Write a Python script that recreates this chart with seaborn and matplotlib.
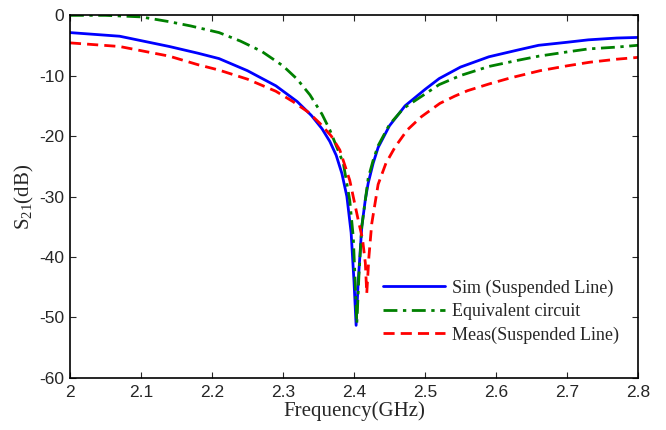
import matplotlib
matplotlib.use('Agg')
import matplotlib.pyplot as plt
import seaborn as sns
import pandas as pd

# Sim (Suspended Line)
sim_f = [2.00, 2.07, 2.14, 2.18, 2.21, 2.25, 2.29, 2.32, 2.34, 2.355, 2.366, 2.375, 2.383,
         2.39, 2.396, 2.400, 2.403, 2.406, 2.411, 2.416, 2.420, 2.427, 2.434, 2.45, 2.472,
         2.50, 2.52, 2.55, 2.59, 2.63, 2.66, 2.70, 2.73, 2.77, 2.80]
sim_db = [-2.9, -3.5, -5.2, -6.3, -7.2, -9.2, -11.7, -14.3, -16.6, -18.8, -20.9, -23.2, -26.2,
          -30.0, -36.0, -44.0, -51.3, -44.0, -35.0, -30.5, -27.8, -24.5, -21.9, -18.3, -15.0,
          -12.3, -10.5, -8.6, -6.9, -5.8, -5.0, -4.5, -4.1, -3.8, -3.7]

# Equivalent circuit
eq_f = [2.00, 2.05, 2.10, 2.14, 2.17, 2.21, 2.24, 2.27, 2.30, 2.32, 2.338, 2.355, 2.366,
        2.385, 2.394, 2.399, 2.402, 2.404, 2.407, 2.411, 2.42, 2.427, 2.434, 2.45, 2.47,
        2.52, 2.55, 2.59, 2.63, 2.66, 2.70, 2.73, 2.77, 2.80]
eq_db = [-0.05, -0.05, -0.3, -1.1, -1.8, -2.9, -4.3, -6.0, -8.4, -10.6, -13.2, -16.4, -19.0,
         -24.5, -30.6, -36.7, -45.0, -51.0, -43.0, -35.0, -27.0, -24.0, -21.6, -18.1, -15.4,
         -11.5, -10.0, -8.5, -7.5, -6.8, -6.1, -5.6, -5.3, -5.0]

# Meas (Suspended Line)
meas_f = [2.00, 2.07, 2.14, 2.18, 2.21, 2.25, 2.29, 2.314, 2.335, 2.352, 2.368, 2.38, 2.394,
          2.406, 2.412, 2.416, 2.418, 2.421, 2.425, 2.434, 2.445, 2.458, 2.475, 2.495, 2.521,
          2.542, 2.56, 2.59, 2.62, 2.662, 2.70, 2.732, 2.77, 2.80]
meas_db = [-4.6, -5.2, -6.8, -8.2, -9.1, -10.6, -12.6, -14.3, -16.0, -17.9, -20.0, -22.3, -27.3,
           -33.9, -37.0, -41.0, -46.0, -40.0, -34.5, -28.0, -24.5, -21.8, -19.0, -16.8, -14.6,
           -13.4, -12.5, -11.4, -10.4, -9.2, -8.4, -7.8, -7.3, -7.0]

labels = ['Sim (Suspended Line)', 'Equivalent circuit', 'Meas(Suspended Line)']

sns.set_style('ticks')
plt.rcParams['font.family'] = ['Liberation Sans', 'DejaVu Sans']
plt.rcParams['mathtext.fontset'] = 'custom'
plt.rcParams['mathtext.rm'] = 'Liberation Serif'
plt.rcParams['mathtext.it'] = 'Liberation Serif:italic'

fig = plt.figure(figsize=(6.66, 4.30), dpi=100)
ax = fig.add_axes([0.105, 0.121, 0.853, 0.844])

df_sim = pd.DataFrame({'f': sim_f, 'db': sim_db})
df_eq = pd.DataFrame({'f': eq_f, 'db': eq_db})
df_meas = pd.DataFrame({'f': meas_f, 'db': meas_db})

sns.lineplot(data=df_sim, x='f', y='db', ax=ax, color='#0000ff', lw=2, label=labels[0])
sns.lineplot(data=df_eq, x='f', y='db', ax=ax, color='#008000', lw=2, label=labels[1])
sns.lineplot(data=df_meas, x='f', y='db', ax=ax, color='#ff0000', lw=2, label=labels[2])
ax.lines[1].set_dashes([5, 2, 1.2, 2])
ax.lines[2].set_dashes([4, 2.2])

ax.set_xlim(2, 2.8)
ax.set_ylim(-60, 0)
ax.set_xticks([2, 2.1, 2.2, 2.3, 2.4, 2.5, 2.6, 2.7, 2.8])
ax.set_xticklabels(['2', '2.1', '2.2', '2.3', '2.4', '2.5', '2.6', '2.7', '2.8'])
ax.set_yticks([-60, -50, -40, -30, -20, -10, 0])
ax.set_yticklabels(['-60', '-50', '-40', '-30', '-20', '-10', '0'])
ax.tick_params(direction='in', top=True, right=True, length=4, width=0.8,
               labelsize=12.5)
ax.tick_params(axis='x', pad=5)
ax.tick_params(axis='y', pad=4)
for s in ax.spines.values():
    s.set_linewidth(1.2)
    s.set_color('black')

ax.set_xlabel('Frequency(GHz)', family='Liberation Serif', fontsize=15, labelpad=1)
ax.set_ylabel('S$_{21}$(dB)', family='Liberation Serif', fontsize=15, labelpad=2)

leg = ax.legend(loc='lower right', bbox_to_anchor=(0.995, 0.05), frameon=False,
                prop={'family': 'Liberation Serif', 'size': 13},
                handlelength=3.4, handletextpad=0.4, labelspacing=0.35)

fig.savefig('out.png', dpi=100)
